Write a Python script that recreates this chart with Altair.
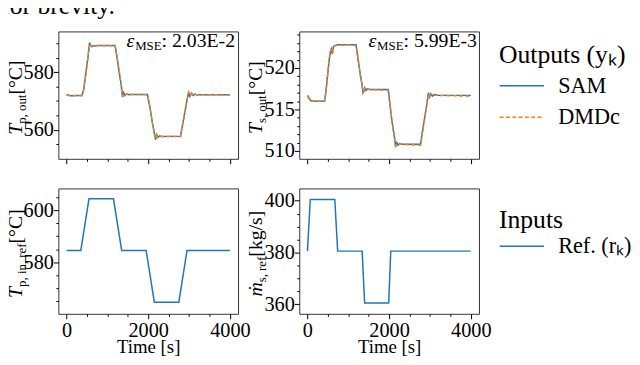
import altair as alt
import pandas as pd

FONT = "Liberation Serif"
BLUE = "#1f77b4"
ORANGE = "#ff7f0e"

# ---------------- data ----------------
# top-left: T_p,out [°C]
tp_out_t = [0, 100, 200, 380, 420, 460, 500, 540, 565, 590, 620, 660, 700, 760, 900, 1190,
            1240, 1290, 1340, 1370, 1400, 1430, 1470, 1520, 1600, 1980, 2040, 2090, 2140, 2180,
            2210, 2240, 2280, 2330, 2400, 2790, 2840, 2890, 2940, 2990, 3020, 3060, 3100, 3150,
            3200, 3300, 4000]
tp_out_sam = [572.2, 571.8, 571.9, 571.9, 574.0, 578.0, 582.5, 587.0, 590.3, 589.4, 588.9, 589.3,
              589.1, 589.3, 589.3, 589.3, 585.0, 580.0, 575.5, 571.4, 572.9, 571.9, 572.5, 572.2,
              572.3, 572.3, 568.0, 563.5, 559.5, 556.6, 558.3, 557.3, 557.9, 557.6, 557.7, 557.7,
              561.5, 565.5, 569.5, 573.2, 571.6, 572.7, 571.9, 572.4, 572.1, 572.2, 572.2]
tp_out_dmd = [572.0, 571.9, 571.8, 571.9, 573.8, 578.3, 582.2, 587.3, 590.0, 589.2, 589.1, 589.2,
              589.2, 589.3, 589.2, 589.2, 584.8, 580.3, 575.2, 571.6, 572.7, 572.0, 572.4, 572.3,
              572.3, 572.2, 568.2, 563.3, 559.7, 556.9, 558.0, 557.5, 557.8, 557.7, 557.7, 557.6,
              561.7, 565.3, 569.7, 573.0, 571.8, 572.5, 572.0, 572.3, 572.2, 572.2, 572.1]

# top-right: T_s,out [°C]
ts_out_t = [0, 80, 200, 420, 460, 500, 540, 565, 585, 610, 640, 680, 740, 1000, 1190, 1240,
            1290, 1335, 1362, 1385, 1405, 1435, 1470, 1520, 1980, 2020, 2070, 2120, 2160, 2190,
            2220, 2260, 2320, 2770, 2820, 2870, 2920, 2962, 2990, 3020, 3060, 3100, 3200, 4000]
ts_out_sam = [516.7, 516.05, 516.0, 516.0, 517.5, 519.4, 521.3, 522.0, 522.3, 521.7, 522.6, 522.7,
              522.8, 522.8, 522.8, 521.0, 519.4, 518.0, 517.0, 517.2, 517.6, 517.3, 517.5, 517.4,
              517.4, 515.6, 513.6, 512.0, 510.5, 511.0, 510.7, 510.9, 510.8, 510.8, 512.4, 514.0,
              515.5, 517.0, 516.5, 516.9, 516.6, 516.8, 516.7, 516.7]
ts_out_dmd = [516.6, 516.0, 516.0, 516.0, 517.3, 519.6, 521.1, 522.1, 522.2, 521.8, 522.5, 522.7,
              522.7, 522.8, 522.7, 521.2, 519.2, 518.1, 517.1, 517.2, 517.5, 517.4, 517.4, 517.4,
              517.3, 515.8, 513.4, 512.1, 510.6, 510.9, 510.8, 510.8, 510.8, 510.7, 512.5, 513.8,
              515.6, 516.9, 516.6, 516.8, 516.7, 516.7, 516.7, 516.6]

# bottom-left: T_p,in,ref [°C]
tp_ref_t = [0, 350, 550, 1150, 1350, 1950, 2150, 2750, 2950, 4000]
tp_ref = [584.5, 584.5, 604.5, 604.5, 584.5, 584.5, 564.5, 564.5, 584.5, 584.5]

# bottom-right: m_s,ref [kg/s]
ms_ref_t = [0, 70, 670, 740, 1340, 1400, 1990, 2040, 4000]
ms_ref = [380.5, 400.5, 400.5, 380.5, 380.5, 360.4, 360.4, 380.5, 380.5]

out_series = ["SAM", "DMDc"]
in_series = ["Ref. (rₖ)"]
mse_tl = "2.03E-2"
mse_tr = "5.99E-3"

x_ticks = list(range(0, 4001, 500))
tl_y_ticks = [555, 560, 565, 570, 575, 580, 585, 590]
tr_y_ticks = list(range(510, 525))
bl_y_ticks = [565, 570, 575, 580, 585, 590, 595, 600, 605]
br_y_ticks = [360, 365, 370, 375, 380, 385, 390, 395, 400]

# ---------------- layout constants ----------------
X_DOMAIN = [-200, 4200]
W, H_TOP, H_BOT = 182, 129, 127

W_REG = {' ': 250, '[': 333, ']': 333, '°': 400, 'C': 667, 'p': 500, ',': 250, 'o': 500,
         'u': 500, 't': 278, 's': 389, 'i': 278, 'n': 500, 'r': 333, 'e': 444, 'f': 333,
         'k': 500, 'g': 500, '/': 278, 'M': 889, 'S': 556, 'E': 611, ':': 278, '.': 250,
         '-': 333}
W_IT = {'T': 556, 'ε': 440, 'ṁ': 722}


def text_width(s, size, italic):
    tot = 0
    for ch in s:
        if italic and ch in W_IT:
            tot += W_IT[ch]
        elif ch.isdigit():
            tot += 500
        else:
            tot += W_REG.get(ch, 500)
    return tot * size / 1000.0


def txt(s, x, y, size=20, italic=False, angle=None, align="left", baseline="alphabetic"):
    kw = dict(font=FONT, fontSize=size, fontStyle="italic" if italic else "normal",
              align=align, baseline=baseline, color="black")
    if angle is not None:
        kw["angle"] = angle
    return alt.Chart(pd.DataFrame({"s": [s]})).mark_text(**kw).encode(
        text="s:N", x=alt.value(x), y=alt.value(y))


def ylabel(parts, h, bx):
    # parts: (text, size, italic, baseline shift towards +x)
    total = sum(text_width(p, s, it) for p, s, it, _ in parts)
    y = h / 2 + total / 2
    out = []
    for p, s, it, dx in parts:
        out.append(txt(p, bx + dx, y, size=s, italic=it, angle=270))
        y -= text_width(p, s, it)
    return out


def mse_label(val, xr, y):
    parts = [("ε", 20, True, 0), ("MSE", 13, False, 3), (": " + val, 20, False, 0)]
    total = sum(text_width(p, s, it) for p, s, it, _ in parts)
    x = xr - total
    out = []
    for p, s, it, dy in parts:
        out.append(txt(p, x, y + dy, size=s, italic=it))
        x += text_width(p, s, it)
    return out


def tick_size(major):
    return {"condition": {"test": f"datum.value % {major} === 0", "value": 5}, "value": 2.5}


def x_axis(bottom):
    if bottom:
        return alt.Axis(values=x_ticks, tickSize=tick_size(2000), format="d",
                        labelExpr="datum.value % 2000 === 0 ? datum.label : ''",
                        labelOverlap=False, labelFlush=False, labelPadding=1.5,
                        title="Time [s]", titlePadding=-2.4, titleFontSize=19)
    return alt.Axis(values=x_ticks, tickSize=tick_size(2000), labels=False, title=None)


def y_axis(ticks, major):
    return alt.Axis(values=ticks, tickSize=tick_size(major), format="d",
                    labelExpr=f"datum.value % {major} === 0 ? datum.label : ''",
                    labelOverlap=False, labelFlush=False, labelPadding=0, title=None)


def line_layer(t, v, name, ydom, yticks, ymajor, bottom, cscale, dscale, legend):
    df = pd.DataFrame({"t": t, "v": v, "series": name})
    enc = dict(
        x=alt.X("t:Q", scale=alt.Scale(domain=X_DOMAIN, nice=False, zero=False), axis=x_axis(bottom)),
        y=alt.Y("v:Q", scale=alt.Scale(domain=ydom, nice=False, zero=False), axis=y_axis(yticks, ymajor)),
        color=alt.Color("series:N", scale=cscale, legend=legend),
    )
    if dscale is not None:
        enc["strokeDash"] = alt.StrokeDash("series:N", scale=dscale, legend=legend)
    return alt.Chart(df).mark_line(strokeWidth=1.5).encode(**enc)


out_color = alt.Scale(domain=out_series, range=[BLUE, ORANGE])
out_dash = alt.Scale(domain=out_series, range=[[1, 0], [4, 2.4]])
in_color = alt.Scale(domain=in_series, range=[BLUE])


def make_legend(title, lx, ly, tpad, rpad):
    return alt.Legend(title=title, orient="none", legendX=lx, legendY=ly, padding=0,
                      symbolType="M-1,0H3", symbolSize=506, symbolStrokeWidth=1.5,
                      labelFont=FONT, labelFontSize=22.5, labelColor="black", labelOffset=36,
                      titleFont=FONT, titleFontSize=26, titleFontWeight="normal",
                      titleColor="black", titlePadding=tpad, rowPadding=rpad)


out_legend = make_legend("Outputs (yₖ)", 202.2, 10.5, 6.5, 8)
in_legend = make_legend("Inputs", 202.2, 19.5, 1.0, 8)

TL_YDOM = [549.9, 594.2]
TR_YDOM = [509.06, 524.4]
BL_YDOM = [560.0, 608.5]
BR_YDOM = [356.25, 404.75]

tl = alt.layer(
    line_layer(tp_out_t, tp_out_sam, "SAM", TL_YDOM, tl_y_ticks, 20, False, out_color, out_dash, None),
    line_layer(tp_out_t, tp_out_dmd, "DMDc", TL_YDOM, tl_y_ticks, 20, False, out_color, out_dash, None),
    *mse_label(mse_tl, 179, 16),
    *ylabel([("T", 20, True, 0), ("p, out", 13, False, 4), (" [°C]", 20, False, 0)], H_TOP, -37),
    txt("for brevity.", -58, -18, size=26),
).properties(width=W, height=H_TOP)

tr = alt.layer(
    line_layer(ts_out_t, ts_out_sam, "SAM", TR_YDOM, tr_y_ticks, 5, False, out_color, out_dash, out_legend),
    line_layer(ts_out_t, ts_out_dmd, "DMDc", TR_YDOM, tr_y_ticks, 5, False, out_color, out_dash, out_legend),
    *mse_label(mse_tr, 180, 16),
    *ylabel([("T", 20, True, 0), ("s, out", 13, False, 4), (" [°C]", 20, False, 0)], H_TOP, -38),
).properties(width=W, height=H_TOP)

bl = alt.layer(
    line_layer(tp_ref_t, tp_ref, in_series[0], BL_YDOM, bl_y_ticks, 20, True, in_color, None, None),
    *ylabel([("T", 20, True, 0), ("p, in, ref", 13, False, 4), (" [°C]", 20, False, 0)], H_BOT, -37),
).properties(width=W, height=H_BOT)

br = alt.layer(
    line_layer(ms_ref_t, ms_ref, in_series[0], BR_YDOM, br_y_ticks, 20, True, in_color, None, in_legend),
    *ylabel([("ṁ", 20, True, 0), ("s, ref", 13, False, 4), (" [kg/s]", 20, False, 0)], H_BOT, -38),
).properties(width=W, height=H_BOT)

chart = alt.concat(
    tl, tr, bl, br, columns=2, spacing={"row": 30, "column": 62}, bounds="flush"
).resolve_scale(
    color="independent", strokeDash="independent"
).properties(
    padding={"left": -8, "top": -18.5, "right": -1, "bottom": -3.5},
    background="white",
).configure_view(
    stroke="#333333", strokeWidth=1
).configure_axis(
    grid=False, domain=False, tickColor="black", tickWidth=1,
    labelFont=FONT, labelFontSize=20.5, labelColor="black",
    titleFont=FONT, titleFontSize=20, titleFontWeight="normal", titleColor="black",
)

chart.save("out.html", embed_options={"renderer": "svg", "actions": False})
